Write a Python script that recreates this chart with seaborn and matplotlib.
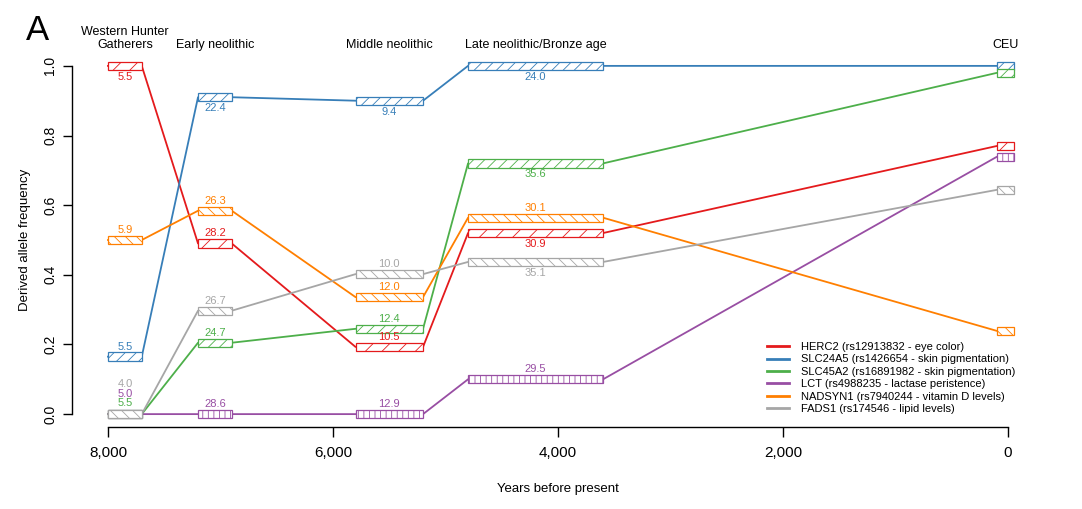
import numpy as np
import pandas as pd
import matplotlib
matplotlib.use("Agg")
import matplotlib.pyplot as plt
from matplotlib.patches import Rectangle
from matplotlib.ticker import FuncFormatter
import seaborn as sns

# ---- Data ----
periods = ["Western Hunter\nGatherers", "Early neolithic", "Middle neolithic",
           "Late neolithic/Bronze age", "CEU"]
period_start = [8000, 7200, 5800, 4800, 100]   # years before present
period_end = [7700, 6900, 5200, 3600, -50]

genes = [
    "HERC2 (rs12913832 - eye color)",
    "SLC24A5 (rs1426654 - skin pigmentation)",
    "SLC45A2 (rs16891982 - skin pigmentation)",
    "LCT (rs4988235 - lactase peristence)",
    "NADSYN1 (rs7940244 - vitamin D levels)",
    "FADS1 (rs174546 - lipid levels)",
]

herc2_freq = [1.0, 0.49, 0.193, 0.52, 0.77]
slc24a5_freq = [0.165, 0.91, 0.90, 1.0, 1.0]
slc45a2_freq = [0.0, 0.205, 0.245, 0.72, 0.98]
lct_freq = [0.0, 0.0, 0.0, 0.10, 0.739]
nadsyn1_freq = [0.50, 0.584, 0.336, 0.564, 0.239]
fads1_freq = [0.0, 0.297, 0.402, 0.437, 0.644]

# effective sample sizes (no label for CEU)
herc2_n = [5.5, 28.2, 10.5, 30.9]
slc24a5_n = [5.5, 22.4, 9.4, 24.0]
slc45a2_n = [5.5, 24.7, 12.4, 35.6]
lct_n = [5.0, 28.6, 12.9, 29.5]
nadsyn1_n = [5.9, 26.3, 12.0, 30.1]
fads1_n = [4.0, 26.7, 10.0, 35.1]

freqs = [herc2_freq, slc24a5_freq, slc45a2_freq, lct_freq, nadsyn1_freq, fads1_freq]
sizes = [herc2_n, slc24a5_n, slc45a2_n, lct_n, nadsyn1_n, fads1_n]

# ---- Styles ----
colors = ["#E41A1C", "#377EB8", "#4DAF4A", "#984EA3", "#FF7F00", "#A6A6A6"]
hatches = ["//", "///", "///", "|||", "\\\\\\", "\\\\\\"]
# label offsets in pixels (+ above box, - below box)
label_px = [
    [-11, 10, 10, -11],
    [10, -11, -11, -11],
    [11, 10, 10, -11],
    [20, 10, 10, 10],
    [10, 10, 10, 10],
    [30, 10, 10, -11],
]

plt.rcParams["font.family"] = ["Liberation Sans", "DejaVu Sans"]
plt.rcParams["hatch.linewidth"] = 0.6

# ---- Long table of line paths ----
rows = []
for g, f in zip(genes, freqs):
    for s, e, v in zip(period_start, period_end, f):
        rows.append((g, s, v))
        rows.append((g, e, v))
df = pd.DataFrame(rows, columns=["gene", "year", "freq"])

fig = plt.figure(figsize=(10.82, 5.09), dpi=100)
ax = fig.add_axes([72 / 1082, 82 / 509, 971 / 1082, 374 / 509])

sns.lineplot(data=df, x="year", y="freq", hue="gene", hue_order=genes,
             palette=colors, sort=False, estimator=None, linewidth=1.3, ax=ax)
handles, labels = ax.get_legend_handles_labels()
ax.get_legend().remove()

box_h = 0.024
pt = 0.72  # points per pixel at 100 dpi
for gi, (f, n) in enumerate(zip(freqs, sizes)):
    for pi, (s, e, v) in enumerate(zip(period_start, period_end, f)):
        ax.add_patch(Rectangle((e, v - box_h / 2), s - e, box_h,
                               facecolor="white", edgecolor=colors[gi],
                               hatch=hatches[gi], linewidth=0.9, zorder=3))
        if pi < len(n):
            ax.annotate(f"{n[pi]:.1f}", xy=((s + e) / 2, v),
                        xytext=(0, label_px[gi][pi] * pt), textcoords="offset points",
                        ha="center", va="center", fontsize=8, color=colors[gi],
                        zorder=4)

# period headers
for name, s, e in zip(periods, period_start, period_end):
    ax.text((s + e) / 2, 1.0 + 2 / 374 * 1.074, name,
            transform=ax.get_xaxis_transform(), ha="center", va="bottom",
            fontsize=9, linespacing=1.05)

ax.set_xlim(8320, -310)
ax.set_ylim(-0.037, 1.037)
ax.set_xticks([8000, 6000, 4000, 2000, 0])
ax.xaxis.set_major_formatter(FuncFormatter(lambda x, p: f"{int(x):,}"))
ax.set_yticks(np.arange(0, 1.01, 0.2))
ax.set_yticklabels([f"{t:.1f}" for t in np.arange(0, 1.01, 0.2)],
                   rotation=90, va="center")

for side in ["top", "right"]:
    ax.spines[side].set_visible(False)
ax.spines["left"].set_bounds(0, 1)
ax.spines["bottom"].set_bounds(8000, 0)
ax.spines["left"].set_linewidth(1.0)
ax.spines["bottom"].set_linewidth(1.0)
ax.tick_params(axis="y", length=6.5, width=1.0, pad=4, labelsize=10)
ax.tick_params(axis="x", length=7, width=1.0, pad=7, labelsize=11)

ax.set_xlabel("Years before present", fontsize=9.5, labelpad=16)
ax.set_ylabel("Derived allele frequency", fontsize=9.5, labelpad=9)

for h in handles:
    h.set_linewidth(2.0)
ax.legend(handles, labels, loc="upper left", frameon=False,
          bbox_to_anchor=(767 / 1082, 1 - 342 / 509), bbox_transform=fig.transFigure,
          fontsize=8, handlelength=2.0, handletextpad=1.1, labelspacing=0.22,
          borderpad=0, borderaxespad=0)

fig.text(38 / 1082, 1 - 31 / 509, "A", fontsize=25, ha="center", va="center")

fig.savefig("out.png", dpi=100)
